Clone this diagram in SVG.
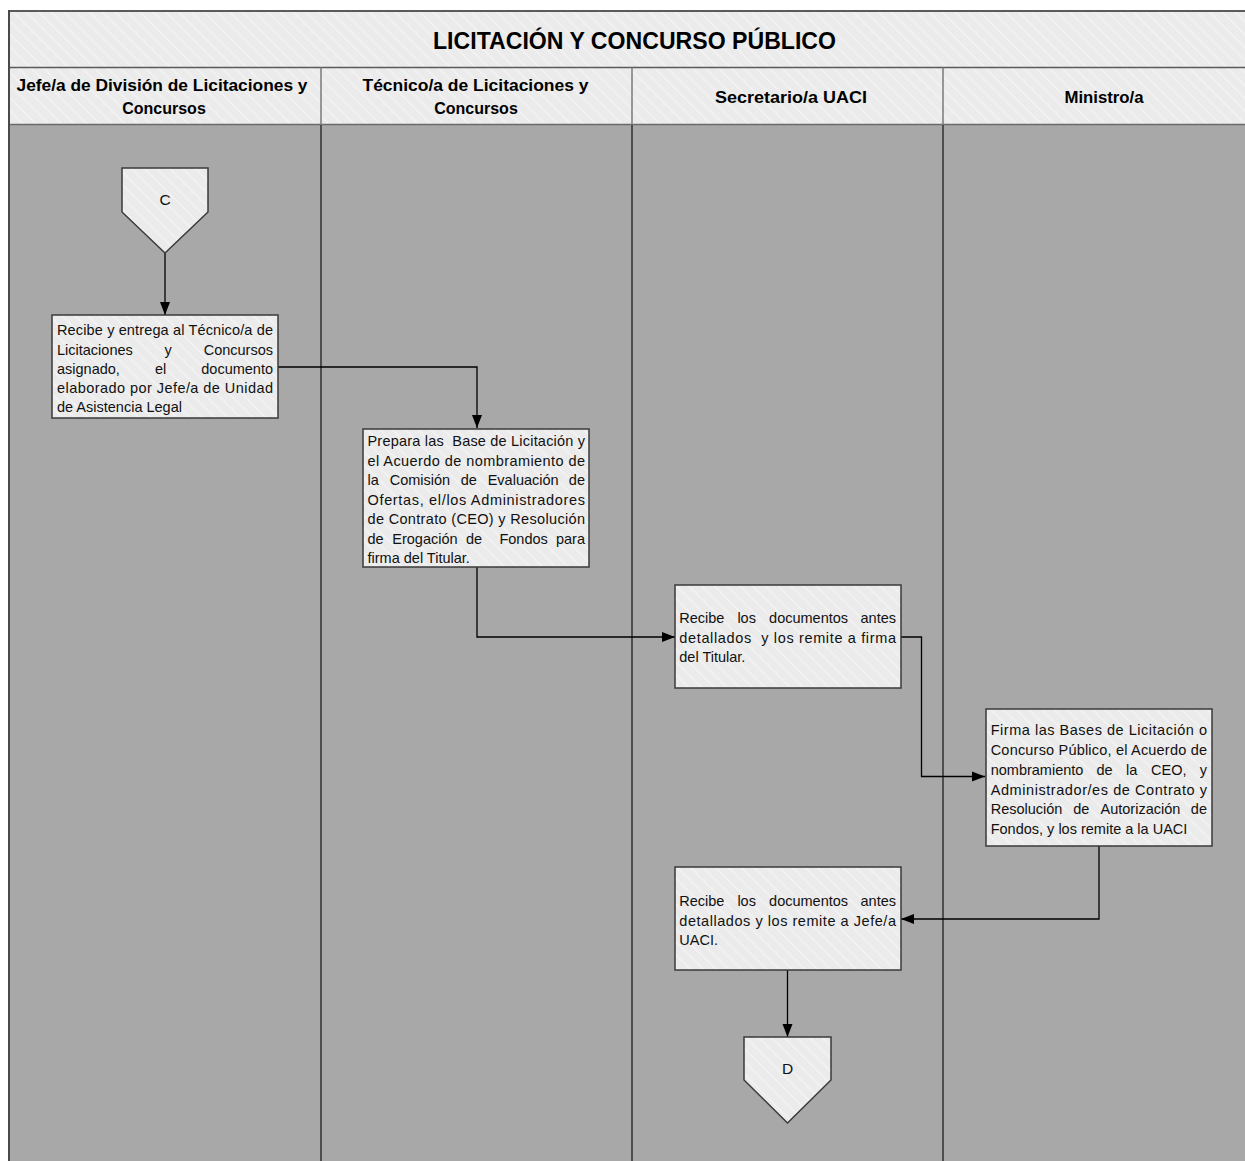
<svg xmlns="http://www.w3.org/2000/svg" width="1245" height="1161" viewBox="0 0 1245 1161">
<defs>
<pattern id="hatch" patternUnits="userSpaceOnUse" width="9" height="9" patternTransform="rotate(-45)">
<rect x="0" y="0" width="9" height="9" fill="#ebebeb"/>
<rect x="0" y="0" width="1.6" height="9" fill="#f3f3f3"/>
</pattern>
<marker id="arr" markerUnits="userSpaceOnUse" markerWidth="14" markerHeight="14" viewBox="0 0 14 14" refX="13" refY="7" orient="auto">
<path d="M0,2 L13,7 L0,12 Z" fill="#000"/>
</marker>
<style>
.hdr{font-family:"Liberation Sans",Arial,sans-serif;font-weight:bold;fill:#000;}
.t{font-family:"Liberation Sans",Arial,sans-serif;font-size:14.5px;fill:#111;white-space:pre;}
.lbl{font-family:"Liberation Sans",Arial,sans-serif;font-size:15.5px;fill:#111;text-anchor:middle;}
.box{fill:url(#hatch);stroke:#3a3a3a;stroke-width:1.5;}
.conn{fill:none;stroke:#000;stroke-width:1.3;}
.lane{stroke:#303030;stroke-width:1.5;}
.hlane{stroke:#7a7a7a;stroke-width:1.5;}
</style>
</defs>
<rect x="0" y="0" width="1245" height="1161" fill="#fff"/>
<g id="frame">
<rect x="9" y="11" width="1240" height="114" fill="url(#hatch)"/>
<rect x="9" y="125" width="1240" height="1040" fill="#a8a8a8"/>
<line x1="9" y1="11" x2="1245" y2="11" stroke="#5a5a5a" stroke-width="2"/>
<line x1="9" y1="67.5" x2="1245" y2="67.5" stroke="#5a5a5a" stroke-width="1.5"/>
<line x1="9" y1="124.5" x2="1245" y2="124.5" stroke="#6a6a6a" stroke-width="1.5"/>
<line x1="9" y1="10" x2="9" y2="1161" stroke="#4a4a4a" stroke-width="2"/>
<line class="hlane" x1="321" y1="67.5" x2="321" y2="125"/>
<line class="hlane" x1="632" y1="67.5" x2="632" y2="125"/>
<line class="hlane" x1="943" y1="67.5" x2="943" y2="125"/>
<line class="lane" x1="321" y1="125" x2="321" y2="1161"/>
<line class="lane" x1="632" y1="125" x2="632" y2="1161"/>
<line class="lane" x1="943" y1="125" x2="943" y2="1161"/>
</g>
<g id="title">
<text class="hdr" x="634.5" y="49" font-size="23" text-anchor="middle" textLength="403" lengthAdjust="spacingAndGlyphs">LICITACIÓN Y CONCURSO PÚBLICO</text>
</g>
<g id="lane-headers">
<text class="hdr" font-size="16" text-anchor="middle"><tspan x="162" y="91" textLength="291" lengthAdjust="spacingAndGlyphs">Jefe/a de División de Licitaciones y</tspan><tspan x="164" y="114">Concursos</tspan></text>
<text class="hdr" font-size="16" text-anchor="middle"><tspan x="475.5" y="91" textLength="226" lengthAdjust="spacingAndGlyphs">Técnico/a de Licitaciones y</tspan><tspan x="476" y="114">Concursos</tspan></text>
<text class="hdr" font-size="16" text-anchor="middle" x="791" y="103" textLength="152" lengthAdjust="spacingAndGlyphs">Secretario/a UACI</text>
<text class="hdr" font-size="16" text-anchor="middle" x="1104" y="103" textLength="79" lengthAdjust="spacingAndGlyphs">Ministro/a</text>
</g>
<g id="connectors">
<path class="conn" d="M165,253 L165,315" marker-end="url(#arr)"/>
<path class="conn" d="M278,367 L477,367 L477,428" marker-end="url(#arr)"/>
<path class="conn" d="M477,567 L477,637 L675,637" marker-end="url(#arr)"/>
<path class="conn" d="M901,637 L921.5,637 L921.5,776.5 L985,776.5" marker-end="url(#arr)"/>
<path class="conn" d="M1099,846 L1099,919 L901,919" marker-end="url(#arr)"/>
<path class="conn" d="M787.5,970 L787.5,1037" marker-end="url(#arr)"/>
</g>
<g id="node-C">
<path class="box" d="M122,168 L208,168 L208,212 L165,253 L122,212 Z"/>
<text class="lbl" x="165" y="205">C</text>
</g>
<g id="node-1">
<rect class="box" x="52" y="315" width="226" height="103"/>
<text class="t"><tspan x="57" y="335" textLength="216" lengthAdjust="spacing">Recibe y entrega al Técnico/a de</tspan><tspan x="57" y="354.5">Licitaciones</tspan><tspan x="164.6" y="354.5">y</tspan><tspan x="273" y="354.5" text-anchor="end">Concursos</tspan><tspan x="57" y="373.5">asignado,</tspan><tspan x="155" y="373.5">el</tspan><tspan x="273" y="373.5" text-anchor="end">documento</tspan><tspan x="57" y="392.5" textLength="216" lengthAdjust="spacing">elaborado por Jefe/a de Unidad</tspan><tspan x="57" y="411.5">de Asistencia Legal</tspan></text>
</g>
<g id="node-2">
<rect class="box" x="363" y="429" width="226" height="138"/>
<text class="t"><tspan x="367.5" y="446" textLength="217.5" lengthAdjust="spacing">Prepara las  Base de Licitación y</tspan><tspan x="367.5" y="465.5" textLength="217.5" lengthAdjust="spacing">el Acuerdo de nombramiento de</tspan><tspan x="367.5" y="485">la</tspan><tspan x="389.7" y="485">Comisión</tspan><tspan x="460.7" y="485">de</tspan><tspan x="487.7" y="485">Evaluación</tspan><tspan x="585" y="485" text-anchor="end">de</tspan><tspan x="367.5" y="504.5" textLength="217.5" lengthAdjust="spacing">Ofertas, el/los Administradores</tspan><tspan x="367.5" y="524" textLength="217.5" lengthAdjust="spacing">de Contrato (CEO) y Resolución</tspan><tspan x="367.5" y="543.5">de</tspan><tspan x="392.3" y="543.5">Erogación</tspan><tspan x="465.9" y="543.5">de</tspan><tspan x="499.4" y="543.5">Fondos</tspan><tspan x="585" y="543.5" text-anchor="end">para</tspan><tspan x="367.5" y="562.5">firma del Titular.</tspan></text>
</g>
<g id="node-3">
<rect class="box" x="675" y="585" width="226" height="103"/>
<text class="t"><tspan x="679.3" y="623">Recibe</tspan><tspan x="737.4" y="623">los</tspan><tspan x="769.1" y="623">documentos</tspan><tspan x="896" y="623" text-anchor="end">antes</tspan><tspan x="679.3" y="642.5" textLength="216.7" lengthAdjust="spacing">detallados  y los remite a firma</tspan><tspan x="679.3" y="662">del Titular.</tspan></text>
</g>
<g id="node-4">
<rect class="box" x="986" y="709" width="226" height="137"/>
<text class="t"><tspan x="990.7" y="734.5" textLength="216.3" lengthAdjust="spacing">Firma las Bases de Licitación o</tspan><tspan x="990.7" y="754.5" textLength="216.3" lengthAdjust="spacing">Concurso Público, el Acuerdo de</tspan><tspan x="990.7" y="774.5">nombramiento</tspan><tspan x="1096.4" y="774.5">de</tspan><tspan x="1126.1" y="774.5">la</tspan><tspan x="1151" y="774.5">CEO,</tspan><tspan x="1207" y="774.5" text-anchor="end">y</tspan><tspan x="990.7" y="794.5" textLength="216.3" lengthAdjust="spacing">Administrador/es de Contrato y</tspan><tspan x="990.7" y="814">Resolución</tspan><tspan x="1073.2" y="814">de</tspan><tspan x="1100.5" y="814">Autorización</tspan><tspan x="1207" y="814" text-anchor="end">de</tspan><tspan x="990.7" y="833.5">Fondos, y los remite a la UACI</tspan></text>
</g>
<g id="node-5">
<rect class="box" x="675" y="867" width="226" height="103"/>
<text class="t"><tspan x="679.3" y="906">Recibe</tspan><tspan x="737.4" y="906">los</tspan><tspan x="769.1" y="906">documentos</tspan><tspan x="896" y="906" text-anchor="end">antes</tspan><tspan x="679.3" y="925.5" textLength="216.7" lengthAdjust="spacing">detallados y los remite a Jefe/a</tspan><tspan x="679.3" y="945">UACI.</tspan></text>
</g>
<g id="node-D">
<path class="box" d="M744,1037 L831,1037 L831,1080 L787.5,1123 L744,1080 Z"/>
<text class="lbl" x="787.5" y="1074">D</text>
</g>
</svg>
